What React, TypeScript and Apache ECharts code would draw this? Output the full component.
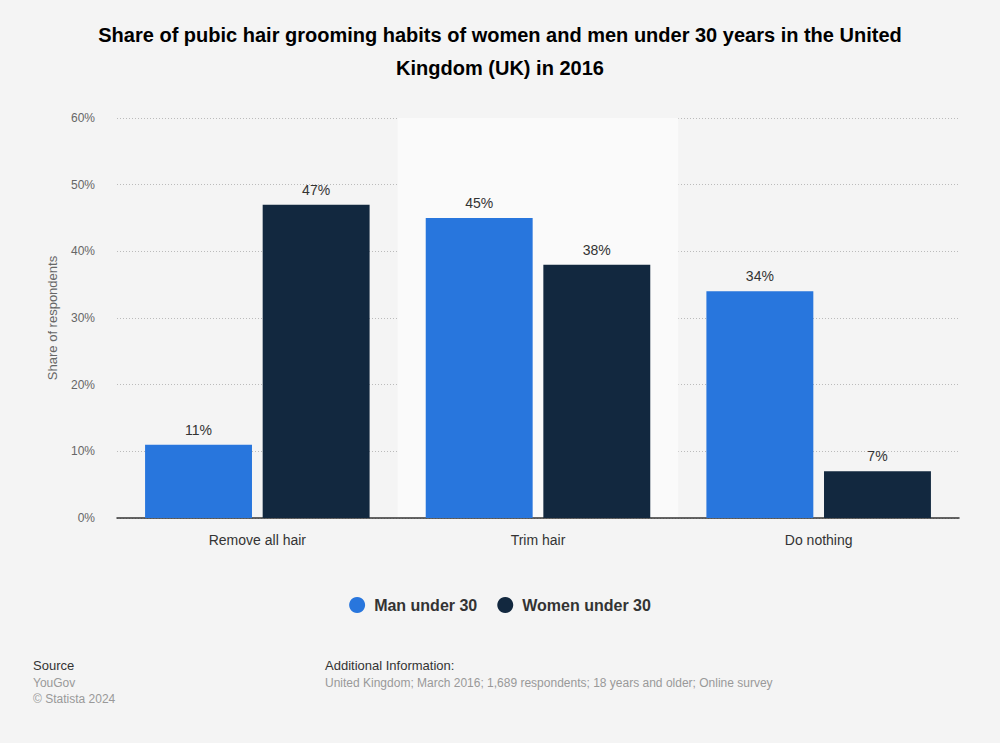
import React, { useEffect, useRef } from "react";
import * as echarts from "echarts";

const categories = ["Remove all hair", "Trim hair", "Do nothing"];
const manUnder30 = [11, 45, 34];
const womenUnder30 = [47, 38, 7];
const seriesNames = ["Man under 30", "Women under 30"];
const yTicks = [0, 10, 20, 30, 40, 50, 60];

export default function App() {
  const ref = useRef<HTMLDivElement>(null);
  useEffect(() => {
    document.body.style.margin = "0";
    const chart = echarts.init(ref.current!, null, { renderer: "svg" });
    const font = "'Liberation Sans', Arial, Helvetica, sans-serif";
    chart.setOption({
      animation: false,
      backgroundColor: "#f4f4f4",
      textStyle: { fontFamily: font },
      title: {
        text: "Share of pubic hair grooming habits of women and men under 30 years in the United\nKingdom (UK) in 2016",
        left: "center",
        top: 13,
        textStyle: { fontSize: 20, fontWeight: "bold", color: "#000", lineHeight: 33, fontFamily: font },
      },
      legend: {
        data: seriesNames,
        bottom: 125,
        left: "center",
        icon: "circle",
        itemWidth: 16,
        itemHeight: 16,
        itemGap: 20,
        textStyle: { fontSize: 16, fontWeight: "bold", color: "#333", fontFamily: font, padding: [0, 0, 0, 4] },
      },
      grid: { left: 117, right: 41, top: 118, bottom: 225 },
      xAxis: {
        type: "category",
        data: categories,
        axisLine: { lineStyle: { color: "#333", width: 1.5 } },
        axisTick: { show: false },
        axisLabel: { color: "#333", fontSize: 14, margin: 15, fontFamily: font },
        splitArea: { show: true, areaStyle: { color: ["rgba(0,0,0,0)", "#fafafa"] } },
      },
      yAxis: {
        type: "value",
        min: yTicks[0],
        max: yTicks[yTicks.length - 1],
        interval: 10,
        name: "Share of respondents",
        nameLocation: "middle",
        nameGap: 58,
        nameTextStyle: { color: "#666", fontSize: 13, fontFamily: font },
        axisLine: { show: false },
        axisTick: { show: false },
        axisLabel: { color: "#666", fontSize: 12, margin: 22, formatter: "{value}%", fontFamily: font },
        splitLine: { lineStyle: { color: "#bbb", type: [1, 2], width: 1 } },
      },
      series: [
        {
          name: seriesNames[0],
          type: "bar",
          data: manUnder30,
          itemStyle: { color: "#2876dd" },
          barGap: "10%",
          barCategoryGap: "20%",
          label: { show: true, position: "top", distance: 8, formatter: "{c}%", color: "#333", fontSize: 14, fontFamily: font },
        },
        {
          name: seriesNames[1],
          type: "bar",
          data: womenUnder30,
          itemStyle: { color: "#12283f" },
          barGap: "10%",
          barCategoryGap: "20%",
          label: { show: true, position: "top", distance: 8, formatter: "{c}%", color: "#333", fontSize: 14, fontFamily: font },
        },
      ],
      graphic: [
        { type: "text", left: 33, top: 659, style: { text: "Source", fill: "#333", fontSize: 13, fontFamily: font } },
        { type: "text", left: 33, top: 677, style: { text: "YouGov", fill: "#999", fontSize: 12, fontFamily: font } },
        { type: "text", left: 33, top: 693, style: { text: "© Statista 2024", fill: "#999", fontSize: 12, fontFamily: font } },
        { type: "text", left: 325, top: 659, style: { text: "Additional Information:", fill: "#333", fontSize: 13, fontFamily: font } },
        {
          type: "text",
          left: 325,
          top: 677,
          style: { text: "United Kingdom; March 2016; 1,689 respondents; 18 years and older; Online survey", fill: "#999", fontSize: 12, fontFamily: font },
        },
      ],
    });
    return () => chart.dispose();
  }, []);
  return <div ref={ref} style={{ width: 1000, height: 743 }} />;
}
